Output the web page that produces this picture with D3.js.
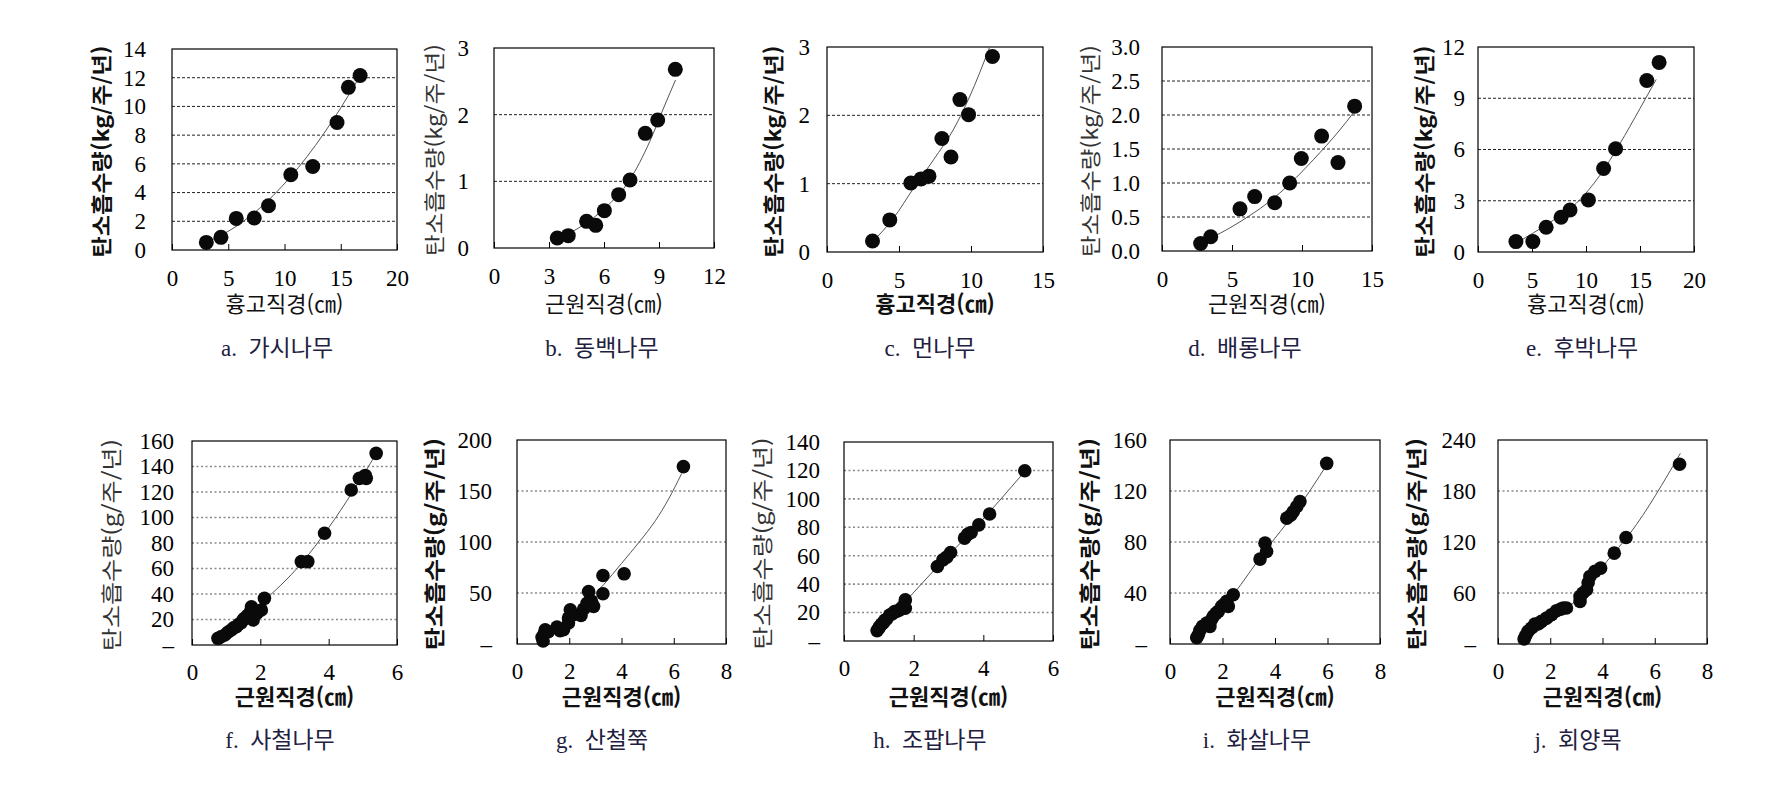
<!DOCTYPE html>
<html lang="ko">
<head>
<meta charset="UTF-8">
<title>탄소흡수량</title>
<style>
  body { margin: 0; background: #fff; }
</style>
</head>
<body>
<svg id="svg" width="1790" height="794"></svg>
<script src="https://d3js.org/d3.v7.min.js"></script>
<script>
const ptsA = [[3.05,0.53],[4.35,0.88],[5.71,2.2],[7.31,2.23],[8.58,3.08],[10.56,5.24],[12.51,5.82],[14.67,8.88],[15.68,11.33],[16.72,12.15]]
const fitA = [[3.0,0.5],[6.0,1.8],[9.0,3.8],[12.0,6.5],[15.0,9.9],[16.7,12.1]]
const ptsB = [[3.45,0.15],[4.05,0.185],[5.05,0.40],[5.55,0.34],[6.02,0.56],[6.8,0.8],[7.42,1.02],[8.25,1.72],[8.93,1.92],[9.89,2.68]]
const fitB = [[3.4,0.12],[5.0,0.37],[6.1,0.61],[7.4,1.02],[8.5,1.6],[9.25,2.1],[9.9,2.52]]
const ptsC = [[3.16,0.16],[4.36,0.47],[5.82,1.01],[6.53,1.07],[7.08,1.11],[7.98,1.66],[8.61,1.39],[9.23,2.23],[9.83,2.01],[11.49,2.86]]
const fitC = [[3.16,0.15],[4.6,0.49],[6.0,0.93],[7.4,1.35],[8.8,1.8],[9.9,2.27],[11.3,3.0]]
const ptsD = [[2.76,0.11],[3.48,0.21],[5.57,0.62],[6.62,0.80],[8.05,0.71],[9.12,1.0],[9.95,1.36],[11.4,1.69],[12.57,1.3],[13.76,2.13]]
const fitD = [[2.8,0.12],[5.5,0.42],[8.4,0.85],[10.8,1.34],[12.7,1.78],[13.7,2.04]]
const ptsE = [[3.51,0.61],[5.08,0.61],[6.31,1.45],[7.69,2.03],[8.52,2.46],[10.22,3.05],[11.63,4.89],[12.74,6.04],[15.63,10.04],[16.77,11.1]]
const fitE = [[3.6,0.55],[6.7,1.75],[9.1,2.85],[11.3,4.5],[13.1,6.3],[15.0,8.4],[16.5,10.1]]

const ptsF = [[0.76,5.2],[0.85,6.5],[0.96,7.8],[1.05,10],[1.15,11.8],[1.22,13.5],[1.30,14.4],[1.38,16.5],[1.44,17.5],[1.50,20],[1.54,21],[1.62,23],[1.69,25],[1.74,30],[1.79,19.6],[1.9,25],[2.03,27.5],[2.12,36.6],[3.2,65.4],[3.39,65.4],[3.88,87.6],[4.66,121.6],[4.9,130.7],[5.07,133],[5.1,130.7],[5.39,150.3]]
const fitF = [[0.76,4],[2.0,32],[3.2,64],[4.0,92],[4.7,120],[5.39,150]]
const ptsG = [[0.96,6.5],[1.0,3],[1.04,10],[1.08,14],[1.2,12],[1.53,16.6],[1.65,13],[1.78,14],[1.97,20.6],[1.97,25.4],[2.04,33.6],[2.1,28],[2.45,28],[2.55,34.3],[2.68,40],[2.74,51.5],[2.85,42],[2.93,36.9],[3.29,67.2],[3.29,49.3],[4.1,68.8],[6.37,173.9]]
const fitG = [[0.96,4],[2.04,27],[3.31,58],[4.0,79],[4.71,101],[5.3,121],[5.8,142],[6.3,167]]
const ptsH = [[0.95,7.3],[1.0,9],[1.02,10.1],[1.08,12],[1.12,12.5],[1.17,14.5],[1.22,15.3],[1.31,18.3],[1.38,19],[1.45,20.7],[1.52,21],[1.60,21.8],[1.65,23],[1.69,24.2],[1.76,28.9],[1.76,23],[2.68,52.4],[2.84,57.1],[2.95,59],[3.06,62.3],[3.46,72.4],[3.55,75],[3.65,76.3],[3.87,81.7],[4.18,89.3],[5.19,119.8]]
const fitH = [[0.95,5.4],[1.79,28.5],[2.75,54],[3.7,78],[5.19,119.3]]
const ptsI = [[1.02,5],[1.08,7.3],[1.14,10.7],[1.24,13.8],[1.40,16.4],[1.52,13.8],[1.58,19],[1.65,21.7],[1.75,24],[1.84,25.6],[1.97,29.5],[2.05,31],[2.16,33.4],[2.22,29.5],[2.41,38.6],[3.43,66.6],[3.62,79.1],[3.68,72.6],[4.45,98.7],[4.6,101],[4.7,103.9],[4.83,107.8],[4.95,111.7],[5.97,141.7]]
const fitI = [[1.02,4.7],[2.41,38.6],[3.56,71.3],[4.83,105.2],[5.97,140.4]]
const ptsJ = [[1.0,6],[1.06,9.8],[1.15,14.9],[1.28,18.8],[1.41,23.5],[1.55,24],[1.66,26.6],[1.86,30.5],[2.05,34.5],[2.24,39.2],[2.4,41],[2.5,42.3],[2.62,42.3],[3.14,56],[3.14,50.1],[3.25,60],[3.39,63.8],[3.45,72],[3.52,79.5],[3.71,85.4],[3.93,89.3],[4.45,106.9],[4.9,125.3],[6.95,211.4]]
const fitJ = [[1.02,5.9],[2.88,48.2],[4.16,97],[5.06,130.4],[6.98,224.3]]

// axis ticks
const xTicks = [[0,5,10,15,20],[0,3,6,9,12],[0,5,10,15],[0,5,10,15],[0,5,10,15,20],
                [0,2,4,6],[0,2,4,6,8],[0,2,4,6],[0,2,4,6,8],[0,2,4,6,8]]
const yTicks = [[0,2,4,6,8,10,12,14],[0,1,2,3],[0,1,2,3],[0,0.5,1,1.5,2,2.5,3],[0,3,6,9,12],
                [0,20,40,60,80,100,120,140,160],[0,50,100,150,200],[0,20,40,60,80,100,120,140],[0,40,80,120,160],[0,60,120,180,240]]

const captions = ['a. 가시나무','b. 동백나무','c. 먼나무','d. 배롱나무','e. 후박나무',
                  'f. 사철나무','g. 산철쭉','h. 조팝나무','i. 화살나무','j. 회양목']
const xLabels = ['흉고직경(㎝)','근원직경(㎝)','흉고직경(㎝)','근원직경(㎝)','흉고직경(㎝)',
                 '근원직경(㎝)','근원직경(㎝)','근원직경(㎝)','근원직경(㎝)','근원직경(㎝)']
const yLabels = ['탄소흡수량(kg/주/년)','탄소흡수량(kg/주/년)','탄소흡수량(kg/주/년)','탄소흡수량(kg/주/년)','탄소흡수량(kg/주/년)',
                 '탄소흡수량(g/주/년)','탄소흡수량(g/주/년)','탄소흡수량(g/주/년)','탄소흡수량(g/주/년)','탄소흡수량(g/주/년)']
const points = [ptsA, ptsB, ptsC, ptsD, ptsE, ptsF, ptsG, ptsH, ptsI, ptsJ]
const fits = [fitA, fitB, fitC, fitD, fitE, fitF, fitG, fitH, fitI, fitJ]

// plot boxes [left, right, top, bottom] and label placement
const layout = [
  { box: [172, 397, 49, 250], tickRight: 146, yLabX: 102, capX: 277, yBold: true, xBold: false },
  { box: [494, 714, 48, 248], tickRight: 469, yLabX: 435, capX: 602, yBold: false, xBold: false },
  { box: [827, 1043, 47, 252], tickRight: 810, yLabX: 774, capX: 930, yBold: true, xBold: true },
  { box: [1162, 1372, 47, 251], tickRight: 1140, yLabX: 1091, capX: 1245, yBold: false, xBold: false },
  { box: [1478, 1694, 47, 252], tickRight: 1465, yLabX: 1425, capX: 1582, yBold: true, xBold: false },
  { box: [192, 397, 441, 645], tickRight: 174, yLabX: 112, capX: 280, yBold: false, xBold: true },
  { box: [517, 726, 440, 644], tickRight: 492, yLabX: 435, capX: 602, yBold: true, xBold: true },
  { box: [844, 1053, 442, 641], tickRight: 820, yLabX: 763, capX: 930, yBold: false, xBold: true },
  { box: [1170, 1380, 440, 644], tickRight: 1147, yLabX: 1090, capX: 1257, yBold: true, xBold: true },
  { box: [1498, 1707, 440, 644], tickRight: 1476, yLabX: 1417, capX: 1578, yBold: true, xBold: true }
]

const numFont = '"Liberation Serif", "DejaVu Serif", serif'
const krFont = '"Noto Sans CJK KR", sans-serif'
const capFont = '"Liberation Serif", "Noto Sans CJK KR", serif'

const svg = d3.select('#svg')

layout.forEach((L, i) => {
  const top = i < 5
  const [x0, x1, y0, y1] = L.box
  const xs = d3.scaleLinear().domain(d3.extent(xTicks[i])).range([x0, x1])
  const ys = d3.scaleLinear().domain(d3.extent(yTicks[i])).range([y1, y0])
  const g = svg.append('g')

  // horizontal grid lines
  g.selectAll('line.grid')
    .data(yTicks[i].slice(1, -1))
    .join('line')
    .attr('x1', x0).attr('x2', x1)
    .attr('y1', d => ys(d)).attr('y2', d => ys(d))
    .attr('stroke', top ? '#222' : '#8a8a8a')
    .attr('stroke-width', top ? 1 : 1.6)
    .attr('stroke-dasharray', top ? '3,2' : '2,2.5')

  // x axis with small inward ticks
  const xAxis = g.append('g')
    .attr('transform', `translate(0,${y1})`)
    .call(d3.axisBottom(xs).tickValues(xTicks[i]).tickFormat(d => d)
      .tickSizeInner(-6).tickSizeOuter(0).tickPadding(top ? 20 : 19))
  xAxis.select('.domain').remove()
  xAxis.selectAll('line').attr('stroke', '#000')
  xAxis.selectAll('text')
    .attr('font-family', numFont).attr('font-size', 23).attr('fill', '#000')

  // y axis labels only
  let fmt = d => d
  if (i === 3) fmt = d3.format('.1f')
  if (!top) fmt = d => d === 0 ? '–' : d
  const yAxis = g.append('g')
    .attr('transform', `translate(${x0},0)`)
    .call(d3.axisLeft(ys).tickValues(yTicks[i]).tickSize(0).tickPadding(x0 - L.tickRight).tickFormat(fmt))
  yAxis.select('.domain').remove()
  yAxis.selectAll('text')
    .attr('font-family', numFont).attr('font-size', 23).attr('fill', '#000')

  // frame
  g.append('rect')
    .attr('x', x0).attr('y', y0)
    .attr('width', x1 - x0).attr('height', y1 - y0)
    .attr('fill', 'none').attr('stroke', '#000').attr('stroke-width', 1.2)

  // fitted curve
  const line = d3.line()
    .x(d => xs(d[0])).y(d => ys(d[1]))
    .curve(d3.curveMonotoneX)
  g.append('path')
    .datum(fits[i])
    .attr('d', line)
    .attr('fill', 'none').attr('stroke', '#555').attr('stroke-width', 1)

  // observations
  g.selectAll('circle')
    .data(points[i])
    .join('circle')
    .attr('cx', d => xs(d[0]))
    .attr('cy', d => ys(d[1]))
    .attr('r', top ? 7.5 : 6.8)
    .attr('fill', '#0a0a0a')

  // axis titles
  g.append('text')
    .attr('x', (x0 + x1) / 2)
    .attr('y', top ? 304 : 697)
    .attr('dy', '0.35em')
    .attr('text-anchor', 'middle')
    .attr('font-family', krFont)
    .attr('font-size', 22)
    .attr('font-weight', L.xBold ? 'bold' : 'normal')
    .attr('fill', '#111')
    .text(xLabels[i])

  g.append('text')
    .attr('transform', `translate(${L.yLabX},${(y0 + y1) / 2 + 2}) rotate(-90)`)
    .attr('dy', '0.35em')
    .attr('text-anchor', 'middle')
    .attr('font-family', krFont)
    .attr('font-size', 21)
    .attr('font-weight', L.yBold ? 'bold' : 'normal')
    .attr('fill', L.yBold ? '#111' : '#333')
    .attr('textLength', 212)
    .attr('lengthAdjust', 'spacingAndGlyphs')
    .text(yLabels[i])

  // caption
  g.append('text')
    .attr('x', L.capX)
    .attr('y', top ? 348 : 740)
    .attr('dy', '0.35em')
    .attr('text-anchor', 'middle')
    .attr('font-family', capFont)
    .attr('font-size', 23)
    .attr('fill', '#1e2040')
    .style('white-space', 'pre')
    .text(captions[i].replace(' ', '\u00a0\u00a0'))
})
</script>
</body>
</html>
